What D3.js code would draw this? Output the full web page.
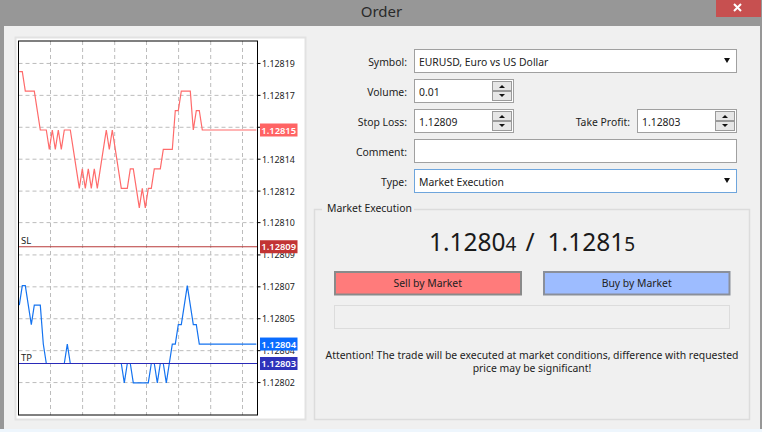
<!DOCTYPE html>
<html>
<head>
<meta charset="utf-8">
<script src="https://d3js.org/d3.v7.min.js"></script>
<style>
  html, body { margin: 0; padding: 0; background: #eef6fd; }
  svg { display: block; }
  text { font-family: "Noto Sans", sans-serif; font-size: 10.4px; fill: #222; }
</style>
</head>
<body>
<div id="chart"></div>
<script>
// Chart data, in points above 1.12800
var askPoints = [18, 18, 17, 17, 17, 17, 16, 15, 15, 15, 14, 15, 14, 15, 14, 15, 15, 15, 14, 13,
  12, 13, 12, 13, 12, 13, 12, 13, 14, 15, 14, 15, 14, 13, 12, 12, 12, 13, 13, 12,
  11, 12, 11, 12, 12, 13, 13, 13, 14, 14, 14, 14, 16, 16, 17, 17, 17, 17, 15, 16,
  16, 15, 15, 15, 15, 15, 15, 15, 15, 15, 15, 15, 15, 15, 15, 15, 15, 15, 15, 15];
var bidPoints = [6, 7, 7, 6, 5, 6, 6, 6, 4, 3, 3, 3, 3, 3, 3, 3, 4, 3, 3, 3,
  3, 3, 3, 3, 3, 3, 3, 3, 3, 3, 3, 3, 3, 3, 3, 2, 3, 3, 2, 2,
  2, 2, 2, 2, 3, 3, 2, 3, 3, 2, 3, 4, 4, 5, 5, 6, 7, 6, 5, 5,
  4, 4, 4, 4, 4, 4, 4, 4, 4, 4, 4, 4, 4, 4, 4, 4, 4, 4, 4, 4];
var tickPoints = [18.42, 16.78, 15.14, 13.5, 11.86, 10.24, 8.58, 6.94, 5.3, 3.66, 2.02];
// the 1.12815 tick label sits fully behind the ask price tag
var tickLabels = ["1.12819", "1.12817", "", "1.12814", "1.12812", "1.12810",
  "1.12809", "1.12807", "1.12805", "1.12804", "1.12802"];
var gridIndex = [10.4, 21.1, 31.8, 42.4, 53.1, 63.8, 74.4];
var stopLoss = 9, takeProfit = 3, bid = 4, ask = 15;
var volume = "0.01", stopLossText = "1.12809", takeProfitText = "1.12803";

var width = 762, height = 432;
var svg = d3.select("#chart").append("svg").attr("width", width).attr("height", height);

var frame = { left: 18.5, right: 257.5, top: 41, bottom: 415 };
var x = d3.scaleLinear().domain([0, 79]).range([19.3, 256.3]);
var y = d3.scaleLinear().domain([ask, takeProfit]).range([130, 363.5]);

function box(x0, y0, w, h, fill, stroke, sw) {
  return svg.append("rect").attr("x", x0).attr("y", y0).attr("width", w).attr("height", h)
    .attr("fill", fill).attr("stroke", stroke || "none").attr("stroke-width", sw || 1);
}
function label(x0, y0, str, anchor, size) {
  var t = svg.append("text").attr("x", x0).attr("y", y0).attr("text-anchor", anchor || "start").text(str);
  if (size) t.style("font-size", size + "px");
  return t;
}

// Window
box(0, 0, width, height, "#979797");
box(0, 429, width, 3, "#eef6fd");
box(4, 26, 756, 403, "#f0f0f0");
box(716, 0, 45, 17, "#c75050");
svg.append("path").attr("d", "M734 4l7 7M741 4l-7 7").attr("stroke", "#fff").attr("stroke-width", 2);
label(381.5, 17, "Order", "middle", 15).style("fill", "#2a2a2a");

// Chart panel
box(15.5, 37.5, 290, 382, "#fff", "#e2e2e2", 2);

svg.append("clipPath").attr("id", "plot").append("rect")
  .attr("x", frame.left).attr("y", frame.top)
  .attr("width", frame.right - frame.left).attr("height", frame.bottom - frame.top);

// Grid
svg.selectAll(".hgrid").data(tickPoints).enter().append("line")
  .attr("class", "hgrid")
  .attr("x1", frame.left).attr("x2", frame.right)
  .attr("y1", function(d) { return y(d); }).attr("y2", function(d) { return y(d); })
  .attr("stroke", "#bcbcbc").attr("stroke-dasharray", "4 3");
svg.selectAll(".vgrid").data(gridIndex).enter().append("line")
  .attr("class", "vgrid")
  .attr("x1", function(d) { return x(d); }).attr("x2", function(d) { return x(d); })
  .attr("y1", frame.top).attr("y2", frame.bottom)
  .attr("stroke", "#bcbcbc").attr("stroke-dasharray", "4 3");

// Price lines
var line = d3.line().x(function(d, i) { return x(i); }).y(function(d) { return y(d); });
svg.append("path").datum(askPoints).attr("d", line).attr("fill", "none")
  .attr("stroke", "#ff6b6b").attr("stroke-width", 1.2).attr("clip-path", "url(#plot)");
svg.append("path").datum(bidPoints).attr("d", line).attr("fill", "none")
  .attr("stroke", "#1473f0").attr("stroke-width", 1.2).attr("clip-path", "url(#plot)");

// Stop loss, take profit
svg.append("line").attr("x1", frame.left).attr("x2", frame.right)
  .attr("y1", y(stopLoss)).attr("y2", y(stopLoss)).attr("stroke", "#b93a3a").attr("stroke-width", 1.2);
svg.append("line").attr("x1", frame.left).attr("x2", frame.right)
  .attr("y1", y(takeProfit)).attr("y2", y(takeProfit)).attr("stroke", "#2a2ab8").attr("stroke-width", 1.2);
label(21, y(stopLoss) - 2.5, "SL", "start", 9.5);
label(21, y(takeProfit) - 2.5, "TP", "start", 9.5);

// Frame and axis
box(frame.left, frame.top, frame.right - frame.left, frame.bottom - frame.top, "none", "#000", 1);
svg.selectAll(".tick-mark").data(tickPoints).enter().append("line")
  .attr("class", "tick-mark")
  .attr("x1", frame.right).attr("x2", frame.right + 3)
  .attr("y1", function(d) { return y(d); }).attr("y2", function(d) { return y(d); })
  .attr("stroke", "#000");
svg.selectAll(".tick-label").data(tickPoints).enter().append("text")
  .attr("class", "tick-label")
  .attr("x", 262).attr("y", function(d) { return y(d) + 3.5; })
  .style("font-size", "8.9px")
  .text(function(d, i) { return tickLabels[i]; });

// Price tags
var tags = [
  { v: ask, fill: "#ff6464", txt: "1.12815" },
  { v: stopLoss, fill: "#c23434", txt: "1.12809" },
  { v: bid, fill: "#0a6cff", txt: "1.12804" },
  { v: takeProfit, fill: "#2f33bb", txt: "1.12803" }
];
tags.forEach(function(t) {
  box(260, y(t.v) - 6.5, 37.5, 13, t.fill);
  label(278.7, y(t.v) + 3.5, t.txt, "middle", 9.4).style("fill", "#fff").style("font-weight", "600");
});

// Order form
function field(x0, y0, w, str, border) {
  box(x0 + 0.5, y0 + 0.5, w, 23, "#fff", border || "#a0a0a0");
  if (str) label(x0 + 5, y0 + 16.5, str);
}
function spinner(x0, y0) {
  box(x0 + 0.5, y0 + 2.5, 19, 9, "#e6e6e6", "#9a9a9a");
  box(x0 + 0.5, y0 + 12.5, 19, 9, "#e6e6e6", "#9a9a9a");
  svg.append("path").attr("d", "M" + (x0 + 7) + " " + (y0 + 9) + "l3 -3l3 3z").attr("fill", "#111");
  svg.append("path").attr("d", "M" + (x0 + 7) + " " + (y0 + 15) + "l3 3l3 -3z").attr("fill", "#111");
}
function arrow(x0, y0) {
  svg.append("path").attr("d", "M" + x0 + " " + y0 + "h6l-3 5z").attr("fill", "#111");
}

label(407, 65.5, "Symbol:", "end");
field(414, 49, 322, "EURUSD, Euro vs US Dollar");
arrow(724, 58);

label(407, 95.5, "Volume:", "end");
field(414, 79, 99, volume);
spinner(492, 79);

label(407, 125.5, "Stop Loss:", "end");
field(414, 109, 99, stopLossText);
spinner(492, 109);

label(630, 125.5, "Take Profit:", "end");
field(637, 109, 99, takeProfitText);
spinner(715, 109);

label(407, 155.5, "Comment:", "end");
field(414, 139, 322, "");

label(407, 185.5, "Type:", "end");
field(414, 169, 322, "Market Execution", "#6ea5dc");
arrow(724, 178);

// Market Execution group
box(314.5, 209.5, 435, 210, "none", "#dcdcdc", 1.5);
box(322, 203, 92, 12, "#f0f0f0");
label(327, 212, "Market Execution");

var quote = label(532, 251, "", "middle", 24.5).style("fill", "#1a1a1a");
quote.append("tspan").text("1.1280");
quote.append("tspan").text("4").style("font-size", "19px");
quote.append("tspan").attr("dx", 9).text("/");
quote.append("tspan").attr("dx", 13).text("1.1281");
quote.append("tspan").text("5").style("font-size", "19px");

box(335, 272, 186, 22.5, "#ff7b7b", "#8a8a8a", 2);
label(427.7, 287, "Sell by Market", "middle");
box(544, 272, 185.5, 22.5, "#9dbcff", "#8a8f9a", 2);
label(636.7, 287, "Buy by Market", "middle");
box(334.5, 305.5, 395, 23, "none", "#dcdcdc", 1);

label(532, 359, "Attention! The trade will be executed at market conditions, difference with requested", "middle");
label(532, 372, "price may be significant!", "middle");
</script>
</body>
</html>
